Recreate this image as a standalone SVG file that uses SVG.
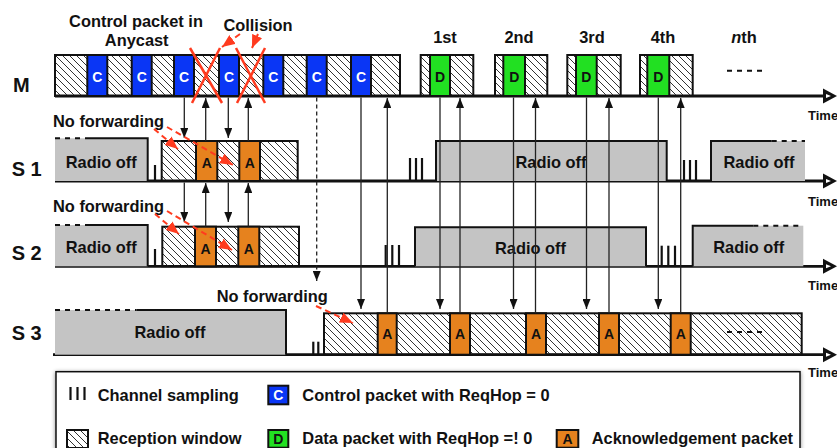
<svg xmlns="http://www.w3.org/2000/svg" width="837" height="448" viewBox="0 0 837 448">
<defs>
<pattern id="hatch" patternUnits="userSpaceOnUse" width="7" height="7">
<path d="M-1,-1 L8,8 M-1,6 L1,8 M6,-1 L8,1" stroke="#333" stroke-width="1"/>
</pattern>
<marker id="ah" viewBox="0 0 10 8" markerWidth="10" markerHeight="8" markerUnits="userSpaceOnUse" refX="10" refY="4" orient="auto">
<path d="M0,0 L10,4 L0,8 z" fill="#111"/>
</marker>
<marker id="rah" viewBox="0 0 12 10" markerWidth="13" markerHeight="11" markerUnits="userSpaceOnUse" refX="12" refY="5" orient="auto">
<path d="M0,0 L12,5 L0,10 z" fill="#ff3b1f"/>
</marker>
<filter id="shadow" x="-5%" y="-20%" width="110%" height="140%">
<feDropShadow dx="0" dy="1" stdDeviation="2" flood-color="#000" flood-opacity="0.45"/>
</filter>
<style>
text { font-family: "Liberation Sans", Arial, Helvetica, sans-serif; font-weight: bold; fill:#111; }
.t { font-size:16.4px; }
.mid { text-anchor:middle; }
.row { font-size:20px; }
.pk { font-size:14px; text-anchor:middle; }
.wt { fill:#fff; }
.time { font-size:13px; }
.h { fill:url(#hatch); stroke:#111; stroke-width:2; }
.c { fill:#0a36f5; stroke:#111; stroke-width:2; }
.d { fill:#22e022; stroke:#111; stroke-width:2; }
.a { fill:#e6821e; stroke:#111; stroke-width:2; }
.off { fill:#c4c4c4; }
.edge { stroke:#111; stroke-width:2; fill:none; }
.dsh { stroke:#111; stroke-width:2; stroke-dasharray:5 5; fill:none; }
.tick { stroke:#111; stroke-width:2.2; }
.ax { stroke:#111; stroke-width:2.8; fill:none; }
.axh { fill:#111; }
.axi { fill:#fff; }
.v { stroke:#222; stroke-width:1.3; fill:none; marker-end:url(#ah); }
.vd { stroke:#222; stroke-width:1.3; fill:none; stroke-dasharray:4 3; marker-end:url(#ah); }
.x { stroke:#ff3b1f; stroke-width:2.5; }
.rd { stroke:#ff3b1f; stroke-width:2; stroke-dasharray:6 4; fill:none; marker-end:url(#rah); }
</style>
</defs>
<rect width="837" height="448" fill="#fff"/>

<g id="labels">
<text class="t mid" x="136" y="26.5">Control packet in</text>
<text class="t mid" x="136.7" y="45.5">Anycast</text>
<text class="t mid" x="258" y="30.5">Collision</text>
<text class="row" x="13" y="91.7">M</text>
<text class="row" x="11.7" y="176">S 1</text>
<text class="row" x="11.7" y="260">S 2</text>
<text class="row" x="11.7" y="340">S 3</text>
<text class="t mid" x="445" y="43.3">1st</text>
<text class="t mid" x="519" y="43.3">2nd</text>
<text class="t mid" x="592" y="43.3">3rd</text>
<text class="t mid" x="663" y="43.3">4th</text>
<text class="t mid" x="744" y="43.3"><tspan font-style="italic">n</tspan>th</text>
<text class="t" x="53" y="127">No forwarding</text>
<text class="t" x="53" y="212">No forwarding</text>
<text class="t" x="216.7" y="301.5">No forwarding</text>
<text class="time" x="808" y="119.5">Time</text>
<text class="time" x="808" y="206">Time</text>
<text class="time" x="808" y="289.5">Time</text>
<text class="time" x="808" y="377">Time</text>
</g>

<g id="timelines">
<line class="ax" x1="55" y1="96" x2="826" y2="96"/>
<polygon class="axh" points="823,88.5 837,96 823,103.5"/>
<polygon class="axi" points="826,94 826,98 831,96"/>
<line class="ax" x1="55" y1="181" x2="826" y2="181"/>
<polygon class="axh" points="823,173.5 837,181 823,188.5"/>
<polygon class="axi" points="826,179 826,183 831,181"/>
<line class="ax" x1="55" y1="266.3" x2="826" y2="266.3"/>
<polygon class="axh" points="823,258.8 837,266.3 823,273.8"/>
<polygon class="axi" points="826,264.3 826,268.3 831,266.3"/>
<line class="ax" x1="53" y1="354.7" x2="826" y2="354.7"/>
<polygon class="axh" points="823,347.2 837,354.7 823,362.2"/>
<polygon class="axi" points="826,352.7 826,356.7 831,354.7"/>
</g>

<g id="M-anycast">
<rect class="h" x="55" y="55" width="345" height="41"/>
<rect class="c" x="87.3" y="55" width="20" height="41"/>
<rect class="c" x="131.7" y="55" width="20" height="41"/>
<rect class="c" x="174" y="55" width="20" height="41"/>
<rect class="c" x="219" y="55" width="20" height="41"/>
<rect class="c" x="263.3" y="55" width="20" height="41"/>
<rect class="c" x="306.7" y="55" width="20" height="41"/>
<rect class="c" x="351" y="55" width="20" height="41"/>
<text class="pk wt" x="97.3" y="81.7">C</text>
<text class="pk wt" x="141.7" y="81.7">C</text>
<text class="pk wt" x="184" y="81.7">C</text>
<text class="pk wt" x="229" y="81.7">C</text>
<text class="pk wt" x="273.3" y="81.7">C</text>
<text class="pk wt" x="316.7" y="81.7">C</text>
<text class="pk wt" x="361" y="81.7">C</text>
</g>

<g id="M-data1">
<rect class="h" x="420.7" y="55" width="52.6" height="41"/>
<rect class="d" x="430" y="55" width="20" height="41"/>
<text class="pk" x="440" y="81.7">D</text>
</g>
<g id="M-data2">
<rect class="h" x="495" y="55" width="52.3" height="41"/>
<rect class="d" x="503.3" y="55" width="21.7" height="41"/>
<text class="pk" x="514.2" y="81.7">D</text>
</g>
<g id="M-data3">
<rect class="h" x="567.3" y="55" width="53.4" height="41"/>
<rect class="d" x="576" y="55" width="20.7" height="41"/>
<text class="pk" x="586.3" y="81.7">D</text>
</g>
<g id="M-data4">
<rect class="h" x="640" y="55" width="52.7" height="41"/>
<rect class="d" x="647.3" y="55" width="22" height="41"/>
<text class="pk" x="658.3" y="81.7">D</text>
</g>
<g id="M-more">
<path class="dsh" d="M727,70.7 H767" stroke-dasharray="5 5"/>
</g>

<g id="S1-off1">
<rect class="off" x="55" y="138.3" width="92.7" height="42.7"/>
<path class="edge" d="M85,138.3 H147.7 V181"/>
<path class="dsh" d="M55,138.3 H85"/>
<text class="t mid" x="101.2" y="168.3">Radio off</text>
</g>
<g id="S1-rx">
<rect class="h" x="161.7" y="141" width="136" height="40"/>
<rect class="a" x="196" y="141" width="21.3" height="40"/>
<rect class="a" x="239.3" y="141" width="20.7" height="40"/>
<text class="pk" x="206.7" y="168.3">A</text>
<text class="pk" x="249.7" y="168.3">A</text>
</g>
<g id="S1-off2">
<rect class="off" x="436" y="141" width="230.7" height="40"/>
<path class="edge" d="M436,181 V141 H666.7 V181"/>
<text class="t mid" x="551" y="168.3">Radio off</text>
</g>
<g id="S1-off3">
<rect class="off" x="711" y="141" width="94" height="40"/>
<path class="edge" d="M711,181 V141 H771.7"/>
<path class="dsh" d="M771.7,141 H805"/>
<text class="t mid" x="759" y="168.3">Radio off</text>
</g>
<g id="S1-sampling">
<line class="tick" x1="155" y1="165" x2="155" y2="181"/>
<line class="tick" x1="410" y1="158" x2="410" y2="181"/>
<line class="tick" x1="416" y1="158" x2="416" y2="181"/>
<line class="tick" x1="422" y1="158" x2="422" y2="181"/>
<line class="tick" x1="684" y1="160" x2="684" y2="181"/>
<line class="tick" x1="690" y1="160" x2="690" y2="181"/>
<line class="tick" x1="696" y1="160" x2="696" y2="181"/>
</g>

<g id="S2-off1">
<rect class="off" x="55" y="225" width="92.7" height="41.3"/>
<path class="edge" d="M85,225 H147.7 V266.3"/>
<path class="dsh" d="M55,225 H85"/>
<text class="t mid" x="101.2" y="253">Radio off</text>
</g>
<g id="S2-rx">
<rect class="h" x="162.3" y="226.7" width="136.7" height="39.6"/>
<rect class="a" x="195" y="226.7" width="21" height="39.6"/>
<rect class="a" x="238.3" y="226.7" width="21" height="39.6"/>
<text class="pk" x="205.5" y="254.3">A</text>
<text class="pk" x="248.8" y="254.3">A</text>
</g>
<g id="S2-off2">
<rect class="off" x="415" y="227.3" width="231" height="39"/>
<path class="edge" d="M415,266.3 V227.3 H646 V266.3"/>
<text class="t mid" x="530.5" y="254">Radio off</text>
</g>
<g id="S2-off3">
<rect class="off" x="692.7" y="225.7" width="110.6" height="40.6"/>
<path class="edge" d="M692.7,266.3 V225.7 H753.3"/>
<path class="dsh" d="M753.3,225.7 H803.3"/>
<text class="t mid" x="748.7" y="253">Radio off</text>
</g>
<g id="S2-sampling">
<line class="tick" x1="155" y1="249" x2="155" y2="266.3"/>
<line class="tick" x1="385.7" y1="245" x2="385.7" y2="266.3"/>
<line class="tick" x1="392.3" y1="245" x2="392.3" y2="266.3"/>
<line class="tick" x1="399" y1="245" x2="399" y2="266.3"/>
<line class="tick" x1="661.7" y1="245.7" x2="661.7" y2="266.3"/>
<line class="tick" x1="668.3" y1="245.7" x2="668.3" y2="266.3"/>
<line class="tick" x1="675" y1="245.7" x2="675" y2="266.3"/>
</g>

<g id="S3-off">
<rect class="off" x="55" y="310" width="231" height="44.7"/>
<path class="edge" d="M136.7,310 H286 V354.7"/>
<path class="dsh" d="M55,310 H136.7"/>
<text class="t mid" x="170" y="338.3">Radio off</text>
</g>
<g id="S3-sampling">
<line class="tick" x1="313.3" y1="341.7" x2="313.3" y2="354.7"/>
<line class="tick" x1="318.3" y1="341.7" x2="318.3" y2="354.7"/>
</g>
<g id="S3-rx">
<rect class="h" x="324" y="313.3" width="477.7" height="41.4"/>
<rect class="a" x="377.7" y="313.3" width="19" height="41.4"/>
<rect class="a" x="450" y="313.3" width="20" height="41.4"/>
<rect class="a" x="526" y="313.3" width="20" height="41.4"/>
<rect class="a" x="599" y="313.3" width="20" height="41.4"/>
<rect class="a" x="670.7" y="313.3" width="20" height="41.4"/>
<text class="pk" x="387.2" y="339.3">A</text>
<text class="pk" x="460" y="339.3">A</text>
<text class="pk" x="536" y="339.3">A</text>
<text class="pk" x="609" y="339.3">A</text>
<text class="pk" x="680.7" y="339.3">A</text>
<path class="dsh" d="M727,332 H767"/>
</g>

<g id="collisions">
<line class="x" x1="190" y1="48" x2="222" y2="103"/>
<line class="x" x1="220" y1="48" x2="192" y2="103"/>
<line class="x" x1="236" y1="48" x2="265" y2="103"/>
<line class="x" x1="265" y1="48" x2="237" y2="103"/>
</g>

<g id="connectors">
<line class="v" x1="184.3" y1="97.5" x2="184.3" y2="138"/>
<line class="v" x1="228.3" y1="97.5" x2="228.3" y2="138"/>
<line class="v" x1="205.7" y1="141" x2="205.7" y2="98"/>
<line class="v" x1="248.3" y1="141" x2="248.3" y2="98"/>
<line class="v" x1="184.3" y1="182.5" x2="184.3" y2="222"/>
<line class="v" x1="228.3" y1="182.5" x2="228.3" y2="222"/>
<line class="v" x1="205.7" y1="226.7" x2="205.7" y2="183"/>
<line class="v" x1="248.3" y1="226.7" x2="248.3" y2="183"/>
<line class="vd" x1="316.7" y1="97.5" x2="316.7" y2="281"/>
<line class="v" x1="361" y1="97.5" x2="361" y2="309"/>
<line class="v" x1="387.3" y1="313.3" x2="387.3" y2="98"/>
<line class="v" x1="440" y1="97.5" x2="440" y2="309"/>
<line class="v" x1="460" y1="313.3" x2="460" y2="98"/>
<line class="v" x1="513.5" y1="97.5" x2="513.5" y2="309"/>
<line class="v" x1="535.5" y1="313.3" x2="535.5" y2="98"/>
<line class="v" x1="586.5" y1="97.5" x2="586.5" y2="309"/>
<line class="v" x1="609" y1="313.3" x2="609" y2="98"/>
<line class="v" x1="658.3" y1="97.5" x2="658.3" y2="309"/>
<line class="v" x1="680.7" y1="313.3" x2="680.7" y2="98"/>
<path class="rd" d="M240,34 L222,47"/>
<path class="rd" d="M258,34 L252,48"/>
<path class="rd" d="M154,129 L178,149"/>
<path class="rd" d="M167,127 L233,165"/>
<path class="rd" d="M155,214 L179,234"/>
<path class="rd" d="M167,211 L232,250"/>
<path class="rd" d="M316,306 L353,323"/>
</g>

<g id="legend">
<rect x="56" y="371.7" width="744" height="90" fill="#fff" stroke="#111" stroke-width="1.5" filter="url(#shadow)"/>
<line class="tick" x1="70.5" y1="387" x2="70.5" y2="400" stroke-width="2.5"/>
<line class="tick" x1="77.5" y1="387" x2="77.5" y2="400" stroke-width="2.5"/>
<line class="tick" x1="84.5" y1="387" x2="84.5" y2="400" stroke-width="2.5"/>
<text class="t" x="97.7" y="400.5">Channel sampling</text>
<rect class="h" x="67" y="430" width="21" height="18"/>
<text class="t" x="97.7" y="444">Reception window</text>
<rect class="c" x="268.3" y="385.7" width="20" height="18.6"/>
<text class="pk wt" x="278.3" y="400">C</text>
<text class="t" x="302.3" y="400.5">Control packet with ReqHop = 0</text>
<rect class="d" x="268.3" y="430" width="20" height="17.7"/>
<text class="pk" x="278.3" y="444">D</text>
<text class="t" x="302.3" y="444">Data packet with ReqHop =! 0</text>
<rect class="a" x="556.7" y="430" width="21.6" height="17.7"/>
<text class="pk" x="567.5" y="444" font-weight="normal">A</text>
<text class="t" x="591.7" y="444">Acknowledgement packet</text>
</g>
</svg>
